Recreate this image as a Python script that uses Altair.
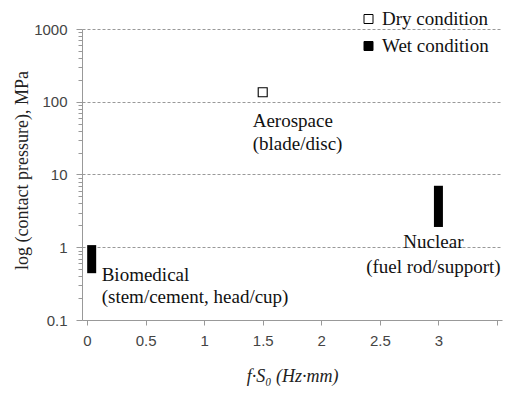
import altair as alt
import pandas as pd

# ---- data ----
conditions = ["Dry condition", "Wet condition"]

dry_apps = ["Aerospace"]
dry_x = [1.5]
dry_y = [135]

wet_apps = ["Biomedical", "Nuclear"]
wet_x = [0.04, 3.0]
wet_lo = [0.44, 1.9]
wet_hi = [1.07, 7.0]

x_ticks = [0, 0.5, 1, 1.5, 2, 2.5, 3, 3.5]
y_ticks = [m * 10 ** e for e in range(-1, 3) for m in range(1, 10)] + [1000]

label_aero = "Aerospace\n(blade/disc)"
label_bio = "Biomedical\n(stem/cement, head/cup)"
label_nuc = "Nuclear\n(fuel rod/support)"

dry = pd.DataFrame({"app": dry_apps, "x": dry_x, "y": dry_y,
                    "cond": [conditions[0]] * len(dry_apps)})
wet = pd.DataFrame({"app": wet_apps, "x": wet_x, "lo": wet_lo, "hi": wet_hi,
                    "cond": [conditions[1]] * len(wet_apps)})
wet["label"] = [label_bio, label_nuc]
dry["label"] = [label_aero]

SERIF = "Liberation Serif"
SANS = "Liberation Sans"

is_major = "abs(log(datum.value)/LN10 - round(log(datum.value)/LN10)) < 0.001"

xscale = alt.Scale(domain=[0, 3.5], nice=False, zero=False)
yscale = alt.Scale(type="log", domain=[0.1, 1000], nice=False)

x_axis = alt.Axis(
    title="f·S₀ (Hz·mm)", values=x_ticks, grid=False,
    labelExpr="datum.value <= 3 ? format(datum.value, '~g') : ''",
    labelFont=SANS, labelFontSize=15, labelColor="#444", labelPadding=8,
    tickSize=5, tickColor="#999", domainColor="#999",
    titleFont=SERIF, titleFontStyle="italic", titleFontWeight="normal",
    titleFontSize=18, titleColor="#222", titleY=56, titleBaseline="middle",
)
y_axis = alt.Axis(
    title="log (contact pressure), MPa", values=y_ticks,
    labelExpr=is_major + " ? format(datum.value, '~g') : ''",
    labelFont=SANS, labelFontSize=15, labelColor="#444", labelPadding=9,
    tickSize={"condition": {"test": is_major, "value": 6}, "value": 4},
    tickColor="#999", domainColor="#999",
    grid=True, gridColor="#999", gridDash=[3, 2], gridWidth=1,
    gridOpacity={"condition": {"test": is_major + " && datum.value > 0.5", "value": 1}, "value": 0},
    titleFont=SERIF, titleFontWeight="normal", titleFontSize=18, titleColor="#222",
    titleX=-60, titleY=141, titleAngle=270, titleBaseline="middle", titleAlign="center",
)

color = alt.Color(
    "cond:N",
    scale=alt.Scale(domain=conditions, range=["white", "black"]),
    legend=alt.Legend(
        title=None, orient="none", legendX=277, legendY=-19.5, padding=0,
        symbolType="square", symbolSize=81, symbolStrokeColor="black",
        symbolStrokeWidth=1, labelFont=SERIF, labelFontSize=19,
        labelColor="#111", labelOffset=4, rowPadding=7, labelLimit=300,
    ),
)

points = alt.Chart(dry).mark_point(
    shape="square", filled=True, size=81, stroke="black", strokeWidth=1.1, opacity=1
).encode(
    x=alt.X("x:Q", scale=xscale, axis=x_axis),
    y=alt.Y("y:Q", scale=yscale, axis=y_axis),
    color=color,
)

bars = alt.Chart(wet).mark_bar(size=9).encode(
    x=alt.X("x:Q", scale=xscale),
    y=alt.Y("lo:Q", scale=yscale),
    y2="hi:Q",
    color=color,
)

def txt(df, ycol, align, dx, dy, lh):
    return alt.Chart(df).mark_text(
        align=align, baseline="top", dx=dx, dy=dy, lineBreak="\n", lineHeight=lh,
        font=SERIF, fontSize=19, color="#111",
    ).encode(x=alt.X("x:Q", scale=xscale), y=alt.Y(f"{ycol}:Q", scale=yscale), text="label:N")

t_aero = txt(dry, "y", "left", -10, 20, 23)
t_bio = txt(wet[wet.app == "Biomedical"], "lo", "left", 10, -7, 22)
t_nuc = txt(wet[wet.app == "Nuclear"], "lo", "center", -5, 6, 25)

chart = alt.layer(bars, points, t_aero, t_bio, t_nuc).properties(
    width=420, height=291,
    autosize=alt.AutoSizeParams(type="none"),
    padding={"left": 74, "top": 21, "right": 2, "bottom": 67},
    background="white",
).configure_view(stroke=None)

chart.save("out.html", embed_options={"renderer": "svg", "actions": False})
